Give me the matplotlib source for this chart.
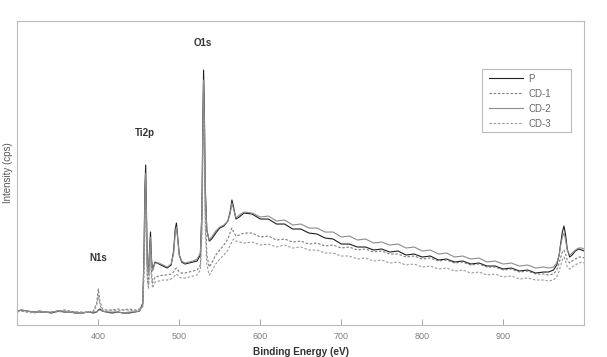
import matplotlib
matplotlib.use("Agg")
import matplotlib.pyplot as plt
from matplotlib.patches import Rectangle

plt.rcParams['font.family'] = ['Liberation Sans', 'DejaVu Sans']

# Binding energy grid (eV)
energy = [300, 305, 312, 320, 328, 335, 342, 350, 358, 365, 372, 380, 388, 394, 398, 400, 402, 405, 410, 417, 424, 431, 438, 445, 451,
          455, 456.5, 457.5, 458.5, 459.5, 460.5, 462, 463.5, 464.5, 465.5, 467, 470,
          475, 480, 485, 490, 493, 495, 496.5, 498, 500, 503, 507, 512, 517, 522, 526,
          528, 529, 530, 531, 532, 534, 537, 540, 545,
          550, 555, 560, 563, 565, 567, 570, 574, 580,
          590, 600, 610, 620, 630, 640, 650, 660, 670, 680, 690, 700, 710, 720, 730, 740, 750, 760, 770, 780,
          790, 800, 810, 820, 830, 840, 850, 860, 870, 880, 890, 900, 910, 920, 930, 940, 950,
          956, 962, 966, 969, 971, 973, 975, 977, 979, 982, 985, 989, 993, 997, 1000]

# Intensities (arbitrary units)
P = [14, 15, 14, 13, 13, 13, 12, 14, 13, 13, 12, 12, 13, 12, 13, 15, 16, 14, 13, 12, 13, 12, 12, 13, 14,
     22, 75, 135, 160, 112, 62, 52, 80, 93, 68, 55, 63,
     61, 59, 57, 60, 74, 96, 102, 88, 70, 63, 61, 62, 63, 64, 70,
     115, 200, 255, 215, 140, 95, 84, 86, 92,
     97, 99, 104, 114, 125, 118, 106, 108, 112,
     111, 106, 106, 101, 101, 96, 96, 92, 91, 87, 86, 81, 81, 78, 78, 75, 76, 73, 74, 70,
     71, 68, 69, 65, 66, 63, 64, 61, 62, 59, 59, 56, 57, 54, 55, 52, 53,
     53, 55, 60, 70, 82, 93, 99, 90, 76, 68, 70, 74, 76, 75, 74]

CD1 = [14, 14, 13, 13, 14, 13, 13, 14, 15, 14, 13, 13, 13, 14, 22, 36, 24, 16, 15, 15, 16, 15, 16, 15, 16,
       20, 60, 108, 125, 90, 50, 40, 68, 80, 55, 42, 48,
       49, 50, 50, 51, 53, 56, 57, 55, 53, 52, 52, 53, 54, 55, 60,
       100, 175, 220, 180, 115, 70, 58, 62, 70,
       75, 80, 86, 93, 97, 93, 89, 90, 92,
       92, 88, 89, 85, 86, 83, 84, 81, 82, 79, 80, 77, 78, 75, 76, 73, 74, 71, 71, 68,
       69, 66, 67, 64, 65, 62, 63, 60, 61, 58, 58, 55, 56, 53, 54, 51, 51,
       50, 51, 55, 62, 68, 73, 75, 71, 65, 62, 64, 66, 68, 68, 67]

CD2 = [14, 15, 14, 13, 14, 13, 13, 14, 14, 13, 13, 12, 13, 13, 13, 15, 15, 14, 13, 13, 13, 12, 13, 13, 14,
       20, 70, 128, 152, 105, 60, 50, 76, 88, 66, 54, 62,
       62, 60, 58, 61, 72, 92, 98, 86, 70, 64, 62, 63, 64, 66, 72,
       112, 190, 245, 205, 135, 95, 85, 88, 94,
       98, 100, 104, 112, 122, 116, 107, 110, 113,
       112, 108, 109, 104, 105, 100, 101, 97, 97, 93, 93, 88, 89, 85, 86, 82, 83, 80, 81, 77,
       78, 74, 75, 71, 72, 68, 69, 66, 67, 63, 64, 61, 62, 59, 60, 57, 58,
       57, 58, 62, 70, 80, 88, 92, 85, 75, 70, 72, 75, 77, 77, 76]

CD3 = [13, 14, 13, 12, 13, 13, 12, 13, 14, 13, 12, 12, 13, 13, 19, 30, 20, 15, 14, 15, 14, 15, 15, 14, 15,
       18, 55, 98, 115, 82, 45, 36, 60, 70, 48, 37, 43,
       44, 45, 45, 46, 48, 50, 51, 50, 48, 47, 47, 48, 49, 50, 55,
       90, 160, 205, 165, 100, 60, 50, 54, 61,
       66, 70, 75, 80, 83, 86, 84, 83, 82,
       83, 80, 81, 78, 80, 77, 78, 75, 75, 72, 72, 69, 69, 66, 67, 64, 65, 62, 63, 60,
       61, 58, 59, 56, 57, 54, 55, 52, 53, 50, 51, 48, 49, 46, 47, 45, 45,
       44, 45, 48, 54, 60, 65, 68, 64, 58, 56, 58, 60, 62, 63, 62]

series_names = ["P", "CD-1", "CD-2", "CD-3"]
xticks = [400, 500, 600, 700, 800, 900]
peak_labels = ["N1s", "Ti2p", "O1s"]
peak_pos = [(400, 67), (458, 192), (529.5, 282)]

W, H = 607, 357
fig = plt.figure(figsize=(W / 100, H / 100), dpi=100)
ax = fig.add_axes([0.0285, 0.0896, 0.934, 0.8514])

ax.plot(energy, P, color="#1e1e1e", lw=0.8, label=series_names[0])
ax.plot(energy, CD1, color="#7a7a7a", lw=0.8, ls=(0, (2.2, 1.6)), label=series_names[1])
ax.plot(energy, CD2, color="#8c8c8c", lw=0.8, label=series_names[2])
ax.plot(energy, CD3, color="#9a9a9a", lw=0.8, ls=(0, (2.2, 1.6)), label=series_names[3])

ax.set_xlim(300, 1000)
ax.set_ylim(0, 304)
ax.set_xticks(xticks)
ax.set_yticks([])
ax.tick_params(axis='x', direction='in', length=4, width=0.6, color='#999999',
               labelsize=6.5, labelcolor='#808080', pad=5)
for s in ax.spines.values():
    s.set_color('#bbbbbb')
    s.set_linewidth(0.8)

ax.set_xlabel("Binding Energy (eV)", fontsize=7.2, fontweight='bold', color='#333333', labelpad=4)
ax.set_ylabel("Intensity (cps)", fontsize=7, color='#555555', labelpad=3)

for lab, (xe, yv) in zip(peak_labels, peak_pos):
    ax.text(xe, yv, lab, fontsize=7, fontweight='bold', color='#333333', ha='center', va='center')

ax.add_patch(Rectangle((482 / W, 1 - 132 / H), 89 / W, 63 / H, transform=fig.transFigure,
                       clip_on=False, facecolor='white', edgecolor='#bbbbbb', lw=0.8, zorder=4))

leg = ax.legend(loc='upper left', bbox_to_anchor=(488.5 / W, 1 - 73.5 / H), bbox_transform=fig.transFigure,
                fontsize=7, frameon=False, handlelength=3.5, labelspacing=0.52,
                borderpad=0.0, borderaxespad=0.0, handletextpad=0.6)
leg.set_zorder(6)
for t in leg.get_texts():
    t.set_color('#666666')

fig.savefig("out.png", dpi=100)
